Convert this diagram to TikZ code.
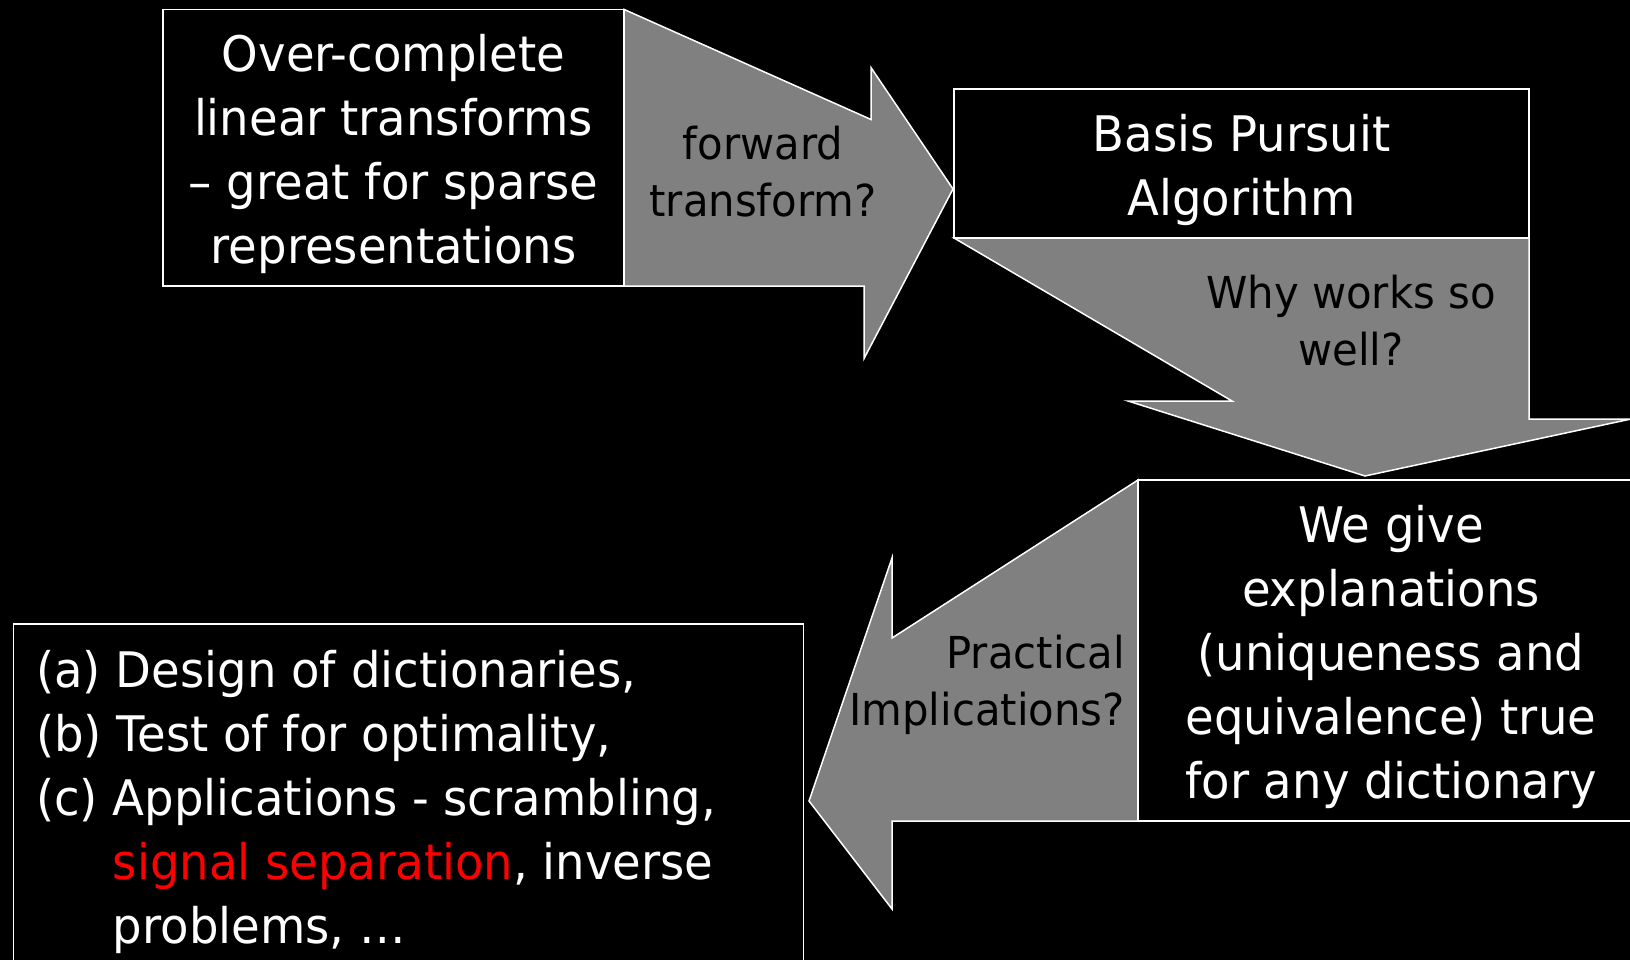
\documentclass[tikz,border=0pt]{standalone}
\usepackage{fontspec}
\setmainfont{DejaVu Sans}[FakeStretch=0.95]
\definecolor{arrowgray}{RGB}{128,128,128}
\definecolor{hired}{RGB}{255,0,0}
\begin{document}
\begin{tikzpicture}[x=1pt,y=-1pt,
  arrowshape/.style={fill=arrowgray, draw=white, line width=1.5pt, line join=miter},
  box/.style={draw=white, fill=black, line width=1.5pt, inner sep=0pt},
  boxtext/.style={text=white, font=\fontsize{49}{64}\selectfont, align=center, inner sep=0pt},
  listtext/.style={text=white, font=\fontsize{49}{64}\selectfont, inner sep=0pt, anchor=base west},
  arrtext/.style={text=black, font=\fontsize{44}{57}\selectfont, inner sep=0pt}]
\useasboundingbox (0,0) rectangle (1630,960);
\fill[black] (0,0) rectangle (1630,960);
\clip (0,0) rectangle (1630,960);

% arrows (behind the boxes)
\draw[arrowshape] (624,9.4) -- (871,119.5) -- (871,67.6) -- (953,189) -- (864,358.6) -- (864,286) -- (624,286) -- cycle;
\draw[arrowshape] (954,238) -- (1232,401) -- (1128,401) -- (1365,476) -- (1631,419) -- (1529,419) -- (1529,238) -- cycle;
\draw[arrowshape] (1138,480) -- (892,638) -- (892,558) -- (809,801) -- (892,909) -- (892,821) -- (1138,821) -- cycle;

% boxes
\node[box, minimum width=461pt, minimum height=276.6pt] (b1) at (393.5,147.7) {};
\node[box, minimum width=575pt, minimum height=149pt] (b2) at (1241.5,163.5) {};
\node[box, minimum width=506pt, minimum height=341pt] (b3) at (1391,650.5) {};
\node[box, minimum width=790pt, minimum height=351pt] (b4) at (408.5,799.5) {};

% box texts
\node[boxtext] (x1) at ([yshift=-6pt]b1.center)
  {Over-complete\\linear transforms\\– great for sparse\\representations};
\node[boxtext] (x2) at ([yshift=-6pt]b2.center) {Basis Pursuit\\Algorithm};
\node[boxtext] (x3) at ([yshift=-6pt]b3.center)
  {We give\\explanations\\(uniqueness and\\equivalence) true\\for any dictionary};

% list in the last box
\node[listtext] (l1) at (36,687) {(a) Design of dictionaries,};
\node[listtext] (l2) at (36,751) {(b) Test of for optimality,};
\node[listtext] (l3) at (36,815) {(c) Applications - scrambling,};
\node[listtext] (l4) at (36,879) {\hphantom{(c)}\ \textcolor{hired}{signal separation}, inverse};
\node[listtext] (l5) at (36,943) {\hphantom{(c)}\ problems, …};

% arrow labels
\node[arrtext, align=center] (t1) at (763,172) {forward\\transform?};
\node[arrtext, align=center] (t2) at (1351,321) {Why works so\\well?};
\node[arrtext, align=right, anchor=east] (t3) at (1125,685) {Practical\\Implications?};
\end{tikzpicture}
\end{document}
